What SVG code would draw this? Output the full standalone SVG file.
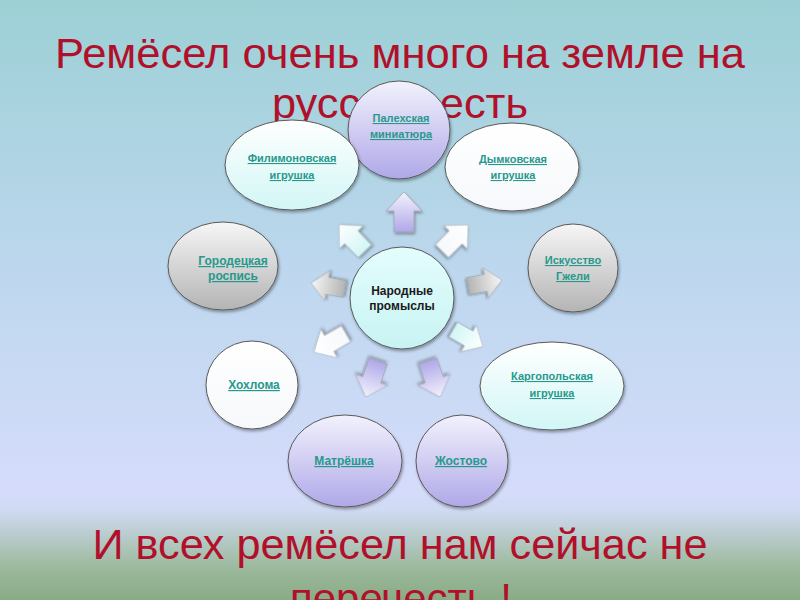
<svg xmlns="http://www.w3.org/2000/svg" width="800" height="600" viewBox="0 0 800 600">
<defs>
  <linearGradient id="bg" x1="0" y1="0" x2="0" y2="1">
    <stop offset="0" stop-color="#9cd0d5"/>
    <stop offset="0.45" stop-color="#bdd7ee"/>
    <stop offset="0.82" stop-color="#d5dcfb"/>
    <stop offset="0.85" stop-color="#d0daf2"/>
    <stop offset="0.95" stop-color="#9ab89a"/>
    <stop offset="1" stop-color="#8aab86"/>
  </linearGradient>
  <linearGradient id="lav" x1="0" y1="0" x2="0" y2="1">
    <stop offset="0" stop-color="#f2f2fd"/>
    <stop offset="1" stop-color="#afa8e8"/>
  </linearGradient>
  <linearGradient id="gray" x1="0" y1="0" x2="0" y2="1">
    <stop offset="0" stop-color="#f6f6f6"/>
    <stop offset="1" stop-color="#b4b4b4"/>
  </linearGradient>
  <linearGradient id="cyan" x1="0" y1="0" x2="0" y2="1">
    <stop offset="0" stop-color="#ffffff"/>
    <stop offset="1" stop-color="#d2f6f6"/>
  </linearGradient>
  <linearGradient id="cyan2" x1="0" y1="0" x2="0" y2="1">
    <stop offset="0" stop-color="#e4fdfd"/>
    <stop offset="1" stop-color="#c8f3f3"/>
  </linearGradient>
  <linearGradient id="white" x1="0" y1="0" x2="0" y2="1">
    <stop offset="0" stop-color="#ffffff"/>
    <stop offset="1" stop-color="#f6f8fb"/>
  </linearGradient>
  <filter id="sh" x="-20%" y="-20%" width="140%" height="140%">
    <feDropShadow dx="1" dy="2" stdDeviation="1.5" flood-color="#000" flood-opacity="0.35"/>
  </filter>
  <polygon id="arr" points="0,-20 18,-1 10,-1 10,20 -10,20 -10,-1 -18,-1"/>
</defs>
<style>
  .title { font-family: "Liberation Sans", Arial, sans-serif; font-size: 42px; fill: #b0102a; text-anchor: middle; }
  .node ellipse { stroke: #5a5a5a; stroke-width: 1; filter: url(#sh); }
  .lbl { font-family: "Liberation Sans", Arial, sans-serif; font-size: 11px; font-weight: bold; fill: #27998c; text-anchor: middle; text-decoration: underline; }
  .big { font-size: 12px; }
  .ctr { font-family: "Liberation Sans", Arial, sans-serif; font-size: 12px; font-weight: bold; fill: #1a1a1a; text-anchor: middle; }
  .arrows use { stroke: #9a9a9a; stroke-width: 0.6; filter: url(#sh); }
</style>
<rect x="0" y="0" width="800" height="600" fill="url(#bg)"/>

<text class="title" x="400" y="68" textLength="690" lengthAdjust="spacingAndGlyphs">Ремёсел очень много на земле на</text>
<text class="title" x="400" y="118" textLength="256" lengthAdjust="spacingAndGlyphs">русской есть</text>
<text class="title" x="400" y="559" textLength="615" lengthAdjust="spacingAndGlyphs">И всех ремёсел нам сейчас не</text>
<text class="title" x="401" y="613" textLength="222" lengthAdjust="spacingAndGlyphs">перечесть !</text>

<g id="connectors" class="arrows">
  <use href="#arr" transform="translate(404,212)" fill="url(#lav)"/>
  <use href="#arr" transform="translate(352,238) rotate(-44) scale(0.92)" fill="url(#cyan)"/>
  <use href="#arr" transform="translate(455,238) rotate(45) scale(0.92)" fill="url(#white)"/>
  <use href="#arr" transform="translate(328,286) rotate(-80) scale(0.85)" fill="url(#gray)"/>
  <use href="#arr" transform="translate(485,283) rotate(80) scale(0.85)" fill="url(#gray)"/>
  <use href="#arr" transform="translate(330,343) rotate(-120) scale(0.92)" fill="url(#white)"/>
  <use href="#arr" transform="translate(468,338) rotate(120) scale(0.85)" fill="url(#cyan)"/>
  <use href="#arr" transform="translate(372,379) rotate(199) scale(0.95)" fill="url(#lav)"/>
  <use href="#arr" transform="translate(434,379) rotate(161) scale(0.95)" fill="url(#lav)"/>
</g>

<g id="palekh" class="node">
  <ellipse cx="399" cy="130" rx="51" ry="49" fill="url(#lav)"/>
  <text class="lbl" x="401" y="122">Палехская</text>
  <text class="lbl" x="401" y="138">миниатюра</text>
</g>
<g id="filimonov" class="node">
  <ellipse cx="292" cy="165" rx="67" ry="45" fill="url(#cyan)"/>
  <text class="lbl" x="292" y="162">Филимоновская</text>
  <text class="lbl" x="292" y="179">игрушка</text>
</g>
<g id="dymkovo" class="node">
  <ellipse cx="512" cy="167" rx="67" ry="44" fill="url(#white)"/>
  <text class="lbl" x="513" y="163">Дымковская</text>
  <text class="lbl" x="513" y="179">игрушка</text>
</g>
<g id="gorodets" class="node">
  <ellipse cx="223" cy="266" rx="55" ry="44" fill="url(#gray)"/>
  <text class="lbl big" x="233" y="265">Городецкая</text>
  <text class="lbl big" x="233" y="280">роспись</text>
</g>
<g id="gzhel" class="node">
  <ellipse cx="573" cy="268" rx="45" ry="44" fill="url(#gray)"/>
  <text class="lbl" x="573" y="264">Искусство</text>
  <text class="lbl" x="573" y="280">Гжели</text>
</g>
<g id="center" class="node">
  <ellipse cx="402" cy="298" rx="52" ry="51" fill="url(#cyan2)"/>
  <text class="ctr" x="402" y="295">Народные</text>
  <text class="ctr" x="402" y="310">промыслы</text>
</g>
<g id="khokhloma" class="node">
  <ellipse cx="252" cy="385" rx="46" ry="44" fill="url(#white)"/>
  <text class="lbl big" x="254" y="389">Хохлома</text>
</g>
<g id="kargopol" class="node">
  <ellipse cx="552" cy="386" rx="72" ry="44" fill="url(#cyan)"/>
  <text class="lbl" x="552" y="380">Каргопольская</text>
  <text class="lbl" x="552" y="397">игрушка</text>
</g>
<g id="matryoshka" class="node">
  <ellipse cx="345" cy="461" rx="57" ry="46" fill="url(#lav)"/>
  <text class="lbl big" x="344" y="465">Матрёшка</text>
</g>
<g id="zhostovo" class="node">
  <ellipse cx="462" cy="461" rx="46" ry="46" fill="url(#lav)"/>
  <text class="lbl big" x="461" y="465">Жостово</text>
</g>
</svg>
